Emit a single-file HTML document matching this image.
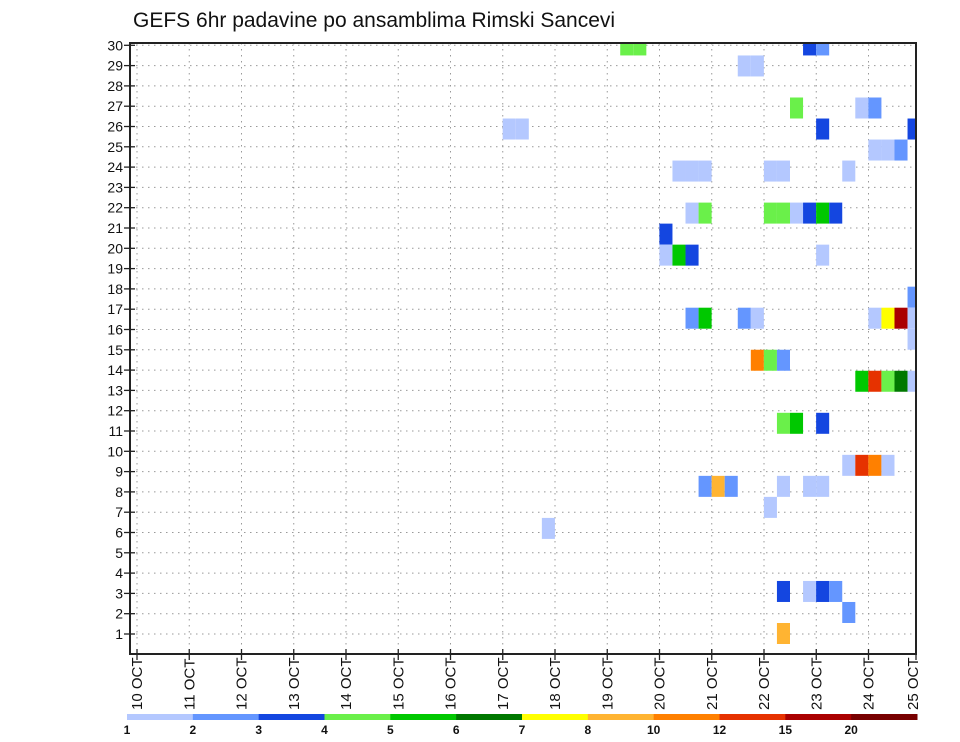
<!DOCTYPE html>
<html><head><meta charset="utf-8"><style>
body{margin:0;background:#fff;}
svg{display:block;font-family:"Liberation Sans",sans-serif;}
</style></head><body>
<svg id="chart" width="960" height="742">
<text x="133" y="27" font-size="21" fill="#111">GEFS 6hr padavine po ansamblima Rimski Sancevi</text>
<g id="grid"></g><g id="cells"></g><g id="axes"></g><g id="legend"></g>
</svg>
<script>
const dayLabels=["10 OCT","11 OCT","12 OCT","13 OCT","14 OCT","15 OCT","16 OCT","17 OCT","18 OCT","19 OCT","20 OCT","21 OCT","22 OCT","23 OCT","24 OCT","25 OCT"];
const memberLabels=[1,2,3,4,5,6,7,8,9,10,11,12,13,14,15,16,17,18,19,20,21,22,23,24,25,26,27,28,29,30];
const colors=["#b4c8ff","#6496ff","#1446e0","#6af04a","#00c800","#007800","#ffff00","#ffb432","#ff8000","#e63200","#aa0000","#780000"];
const legendLabels=["1","2","3","4","5","6","7","8","10","12","15","20"];
// cells: [member, 6h step index from 10 OCT 00Z, color class]
const cellMember=[29,29,29,29,28,28,26,26,26,25,25,25,25,24,24,24,23,23,23,23,23,23,
21,21,21,21,21,21,21,21,20,19,19,19,19,17,16,16,16,16,16,16,16,16,15,14,14,14,13,13,13,13,13,
11,11,11,9,9,9,9,8,8,8,8,8,8,7,6,3,3,3,3,2,1];
const cellStep=[37,38,51,52,46,47,50,55,56,52,59,28,29,56,57,58,41,42,43,48,49,54,
42,43,48,49,50,51,52,53,40,40,41,42,52,59,42,43,46,47,56,57,58,59,59,47,48,49,55,56,57,58,59,
49,50,52,54,55,56,57,43,44,45,49,51,52,48,31,49,51,52,53,54,49];
const cellClass=[3,3,2,1,0,0,3,0,1,2,2,0,0,0,0,1,0,0,0,0,0,0,
0,3,3,3,0,2,4,2,2,0,4,2,0,1,1,4,1,0,0,6,10,0,0,8,3,1,4,9,3,5,0,
3,4,2,0,9,8,0,1,7,1,0,0,0,0,0,2,0,2,1,1,7];

const L=130,T=43,R=916,B=654;
const NS="http://www.w3.org/2000/svg";
function el(t,a,p){const e=document.createElementNS(NS,t);for(const k in a)e.setAttribute(k,a[k]);p.appendChild(e);return e;}
function xDay(d){return 137+d*52.25;}
function xStep(i){return 137+i*13.06;}
function yLab(n){return 654.3-n*20.3;}
function yCell(m){return 633.5-(m-1)*21.02;}
const grid=document.getElementById('grid'),cells=document.getElementById('cells'),axes=document.getElementById('axes'),leg=document.getElementById('legend');
el('clipPath',{id:'pc'},grid);
el('rect',{x:L,y:T,width:R-L,height:B-T},document.getElementById('pc'));
dayLabels.forEach((d,k)=>{const x=xDay(k);if(x<R){
const g=el('line',{x1:x,y1:T,x2:x,y2:B,stroke:'#999','stroke-dasharray':'1.5 4.5'},grid);

}
const t=el('line',{x1:Math.min(x,R),y1:B-5,x2:Math.min(x,R),y2:B+6,stroke:'#222','stroke-width':1.3},axes);


const tx=el('text',{x:0,y:0,'font-size':15,fill:'#111',transform:`translate(${Math.min(x,R-3)+5},710) rotate(-90)`},axes);
tx.textContent=d;

});
memberLabels.forEach(n=>{const y=yLab(n);
const g=el('line',{x1:L,y1:y,x2:R,y2:y,stroke:'#999','stroke-dasharray':'1.5 4.5'},grid);


const t=el('line',{x1:L-6,y1:y,x2:L+5,y2:y,stroke:'#222','stroke-width':1.3},axes);


const tx=el('text',{x:L-7,y:y+5,'font-size':14,fill:'#111','text-anchor':'end'},axes);
tx.textContent=n;

});
cells.setAttribute('clip-path','url(#pc)');
cellMember.forEach((m,k)=>{const x=xStep(cellStep[k]),yc=yCell(m);
const r=el('rect',{x:x,y:yc-10.5,width:13.06,height:21,fill:colors[cellClass[k]]},cells);

});
const fr=el('rect',{x:L,y:T,width:R-L,height:B-T,fill:'none',stroke:'#222','stroke-width':2},axes);


const w=(917-127)/12;
colors.forEach((c,k)=>{
const r=el('rect',{x:127+k*w,y:714,width:w+0.5,height:6,fill:c},leg);


const t=el('text',{x:127+k*w,y:734,'font-size':12,'font-weight':'bold',fill:'#111','text-anchor':'middle'},leg);
t.textContent=legendLabels[k];

});
</script>
</body></html>
